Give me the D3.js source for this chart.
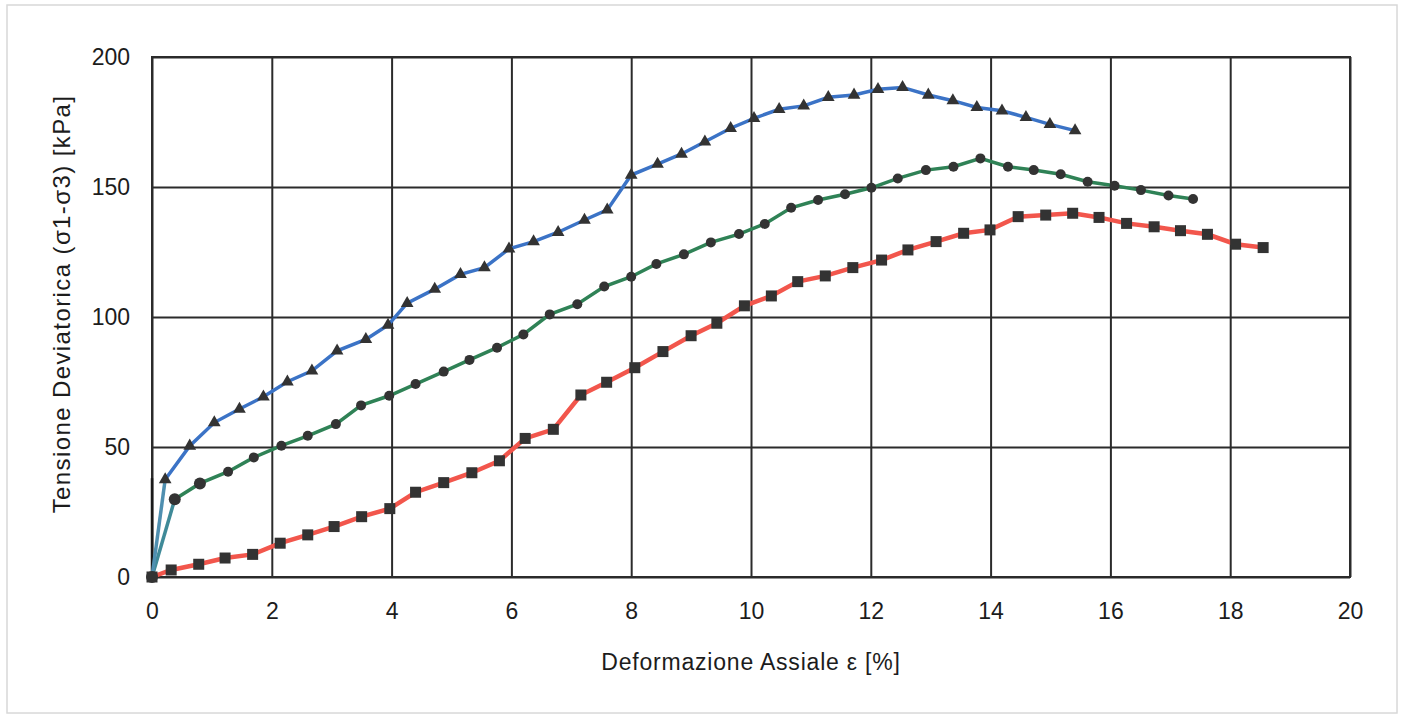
<!DOCTYPE html>
<html><head><meta charset="utf-8">
<script src="https://cdn.jsdelivr.net/npm/d3@7"></script>
<style>body{margin:0;background:#fff;}svg{display:block;font-family:"Liberation Sans",Arial,sans-serif;}</style>
</head><body>
<script>
// Data
const redX = [0,0.32,0.78,1.22,1.68,2.14,2.6,3.04,3.5,3.97,4.4,4.87,5.34,5.8,6.23,6.7,7.16,7.59,8.06,8.53,9.0,9.43,9.89,10.34,10.78,11.24,11.7,12.18,12.62,13.09,13.55,13.99,14.46,14.92,15.37,15.81,16.27,16.73,17.17,17.62,18.09,18.55];
const redY = [0,2.7,4.9,7.3,8.7,13,16.2,19.4,23.2,26.3,32.6,36.3,40.1,44.7,53.3,56.8,70,74.9,80.5,86.7,92.8,97.6,104.3,108.1,113.6,115.8,119,121.9,125.8,129,132.2,133.5,138.6,139.2,139.9,138.3,136,134.7,133.2,131.8,128,126.7];
const greenX = [0,0.38,0.8,1.27,1.7,2.16,2.6,3.07,3.49,3.96,4.4,4.87,5.3,5.76,6.2,6.64,7.1,7.55,8.0,8.42,8.88,9.33,9.8,10.23,10.67,11.12,11.57,12.01,12.45,12.92,13.38,13.83,14.29,14.72,15.17,15.62,16.07,16.51,16.97,17.38];
const greenY = [0,29.9,36,40.5,46,50.5,54.3,58.8,66,69.7,74.2,79,83.5,88.2,93.3,101,104.9,111.7,115.5,120.4,124.1,128.7,131.9,135.8,142,145,147.2,149.7,153.3,156.5,157.8,161,157.8,156.5,154.9,152,150.5,148.8,146.7,145.4];
const blueX = [0,0.22,0.63,1.04,1.46,1.86,2.26,2.67,3.09,3.57,3.94,4.26,4.72,5.15,5.55,5.96,6.37,6.78,7.22,7.6,8.0,8.44,8.84,9.23,9.66,10.05,10.47,10.88,11.29,11.72,12.12,12.53,12.96,13.37,13.77,14.19,14.59,14.99,15.41];
const blueY = [0,37.5,50.4,59.4,64.6,69.3,75.1,79.3,87,91.4,96.9,105.3,110.7,116.4,119,126.2,129,132.6,137.3,141.2,154.6,158.8,162.7,167.4,172.6,176.4,179.9,181.2,184.5,185.4,187.6,188.3,185.4,183.2,180.6,179.3,176.8,174.1,171.7];
const startLineX = [0,0];
const startLineY = [0,38];
const xTicks = [0,2,4,6,8,10,12,14,16,18,20];
const yTicks = [0,50,100,150,200];
const xTitle = "Deformazione Assiale ε [%]";
const yTitle = "Tensione Deviatorica (σ1-σ3) [kPa]";

const W = 1401, H = 718;
const FONT = "Liberation Sans, Arial, sans-serif";
const svg = d3.select("body").append("svg").attr("width", W).attr("height", H);
svg.append("rect").attr("x",7).attr("y",5).attr("width",1390).attr("height",708)
  .attr("fill","#fff").attr("stroke","#d8d8d8").attr("stroke-width",1.5);

const x = d3.scaleLinear().domain([0,20]).range([152,1350]);
const y = d3.scaleLinear().domain([0,200]).range([577,57]);

// gridlines
const g = svg.append("g");
g.append("g").attr("transform","translate(0,577)")
  .call(d3.axisBottom(x).tickValues(xTicks).tickSize(-(577-57)).tickFormat(d3.format("d")).tickPadding(26))
  .call(a=>a.select(".domain").remove())
  .call(a=>a.selectAll("line").attr("stroke","#2b2b2b").attr("stroke-width",2))
  .call(a=>a.selectAll("text").attr("font-size",23).attr("fill","#1c1c1c").attr("font-family",FONT));
g.append("g").attr("transform","translate(152,0)")
  .call(d3.axisLeft(y).tickValues(yTicks).tickSize(-(1350-152)).tickFormat(d3.format("d")).tickPadding(22))
  .call(a=>a.select(".domain").remove())
  .call(a=>a.selectAll("line").attr("stroke","#2b2b2b").attr("stroke-width",2))
  .call(a=>a.selectAll("text").attr("font-size",23).attr("fill","#1c1c1c").attr("font-family",FONT));
g.append("rect").attr("x",152).attr("y",57).attr("width",1350-152).attr("height",577-57)
  .attr("fill","none").attr("stroke","#2b2b2b").attr("stroke-width",2);

// titles
svg.append("text").attr("x",751).attr("y",670).attr("text-anchor","middle")
  .attr("font-size",23).attr("fill","#1c1c1c").attr("letter-spacing",0.8).text(xTitle);
svg.append("text").attr("transform","translate(70,304) rotate(-90)").attr("text-anchor","middle")
  .attr("font-size",24).attr("fill","#1c1c1c").attr("letter-spacing",1.4).text(yTitle);

const line = d3.line().x(d=>x(d[0])).y(d=>y(d[1]));
const zip = (a,b)=>a.map((v,i)=>[v,b[i]]);
const red = zip(redX,redY), green = zip(greenX,greenY), blue = zip(blueX,blueY);

const plot = svg.append("g");
plot.append("path").datum(zip(startLineX,startLineY)).attr("d",line).attr("fill","none").attr("stroke","#1a1a1a").attr("stroke-width",2.5);

plot.append("path").datum(red).attr("d",line).attr("fill","none").attr("stroke","#f2564c").attr("stroke-width",4.5);
plot.append("path").datum(green.slice(1)).attr("d",line).attr("fill","none").attr("stroke","#2f8256").attr("stroke-width",3.5);
plot.append("path").datum(blue.slice(1)).attr("d",line).attr("fill","none").attr("stroke","#3b73c6").attr("stroke-width",3.5);
// first segments (teal)
plot.append("path").datum(green.slice(0,2)).attr("d",line).attr("fill","none").attr("stroke","#3f8a98").attr("stroke-width",3.5);
plot.append("path").datum(blue.slice(0,2)).attr("d",line).attr("fill","none").attr("stroke","#4f8fb0").attr("stroke-width",3.5);

const mk = "#333";
plot.selectAll(".sq").data(red).join("rect")
  .attr("x",d=>x(d[0])-5.5).attr("y",d=>y(d[1])-5.5).attr("width",11).attr("height",11).attr("fill",mk);
plot.selectAll(".ci").data(green).join("circle")
  .attr("cx",d=>x(d[0])).attr("cy",d=>y(d[1])).attr("r",d=>d[0]<1?6:5).attr("fill",mk);
plot.selectAll(".tr").data(blue.slice(1)).join("path")
  .attr("d",d3.symbol().type(d3.symbolTriangle).size(70))
  .attr("transform",d=>`translate(${x(d[0])},${y(d[1])})`).attr("fill",mk);
</script>
</body></html>
